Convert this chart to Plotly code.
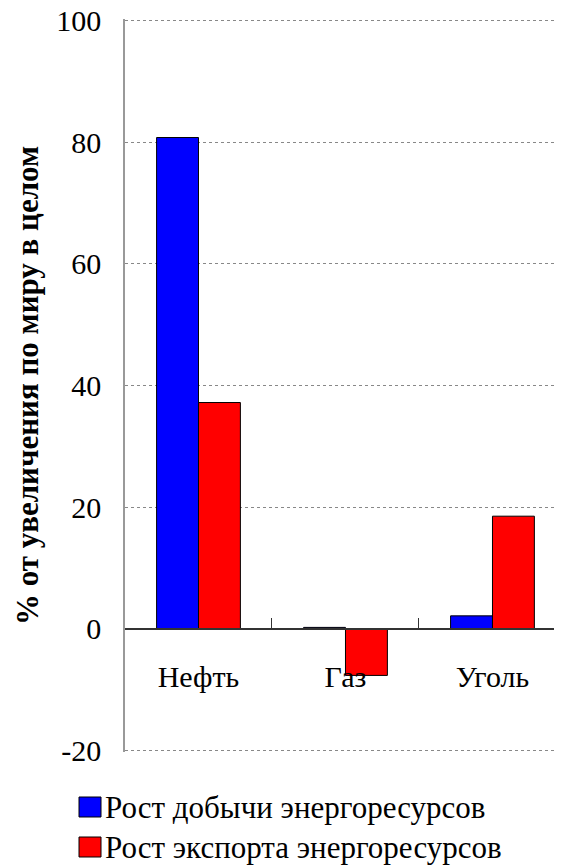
import plotly.graph_objects as go

categories = ["Нефть", "Газ", "Уголь"]
production = [80.8, 0.2, 2.1]
export = [37.2, -7.7, 18.5]
series_names = ["Рост добычи энергоресурсов", "Рост экспорта энергоресурсов"]
series_colors = ["#0000FF", "#FF0000"]
y_ticks = [-20, 0, 20, 40, 60, 80, 100]
y_labels = ["-20", "0", "20", "40", "60", "80", "100"]

serif = "Liberation Serif"
x_pos = list(range(len(categories)))

W, H = 554, 900
L, R, T, B = 117, 0, 11, 156
plot_w, plot_h = W - L - R, H - T - B


def px(x):  # figure pixel -> paper x
    return (x - L) / plot_w


def py(y):  # figure pixel (from top) -> paper y
    return (H - B - y) / plot_h


fig = go.Figure()
for vals, name, col in zip([production, export], series_names, series_colors):
    fig.add_trace(go.Bar(x=x_pos, y=vals, name=name, showlegend=False,
                         marker=dict(color=col, line=dict(color="black", width=1))))

# small padding so the dotted grid lines at -20 and 100 are still drawn
y_lo, y_hi = y_ticks[0] - 0.3, y_ticks[-1] + 0.3
zero_frac = (0 - y_lo) / (y_hi - y_lo)

# legend: big square swatches like the original, drawn below the plot
for i, (name, col) in enumerate(zip(series_names, series_colors)):
    top = 789 + i * 40
    fig.add_shape(type="rect", xref="paper", yref="paper",
                  x0=px(71), x1=px(93), y0=py(top), y1=py(top + 20),
                  fillcolor=col, line=dict(color="black", width=1))
    fig.add_annotation(xref="paper", yref="paper", x=px(95), y=py(top + 10),
                       xanchor="left", yanchor="middle", showarrow=False,
                       text=name, font=dict(family=serif, size=31, color="black"))

# page body has an 8px margin, so the figure is shifted by that amount
fig.update_layout(
    width=W, height=H,
    margin=dict(l=L, r=R, t=T, b=B),
    plot_bgcolor="white", paper_bgcolor="white",
    barmode="group", bargap=0.43, bargroupgap=0,
    font=dict(family=serif, color="black", size=30),
    showlegend=False,
    xaxis=dict(
        range=[-0.5, 2.473], tickvals=x_pos, ticktext=categories,
        anchor="free", position=zero_frac, automargin=False,
        showline=True, linecolor="#333333", linewidth=1.5,
        showgrid=False, zeroline=False, ticks="",
        ticklabelstandoff=22,
        tickfont=dict(family=serif, size=30),
        minor=dict(tickvals=[0.5, 1.5], ticks="inside", ticklen=10,
                   tickcolor="#333333", tickwidth=1, showgrid=False),
    ),
    yaxis=dict(
        range=[y_lo, y_hi], tickvals=y_ticks, ticktext=y_labels,
        automargin=False, ticklabeloverflow="allow",
        showline=True, linecolor="#999999", linewidth=1.5,
        showgrid=True, gridcolor="#888888", griddash="dot", gridwidth=1,
        zeroline=False, ticks="", ticklabelstandoff=16,
        tickfont=dict(family=serif, size=30),
        title=dict(text="<b>% от увеличения по миру в целом</b>",
                   font=dict(family=serif, size=31), standoff=8),
    ),
)

fig.write_html("out.html")
